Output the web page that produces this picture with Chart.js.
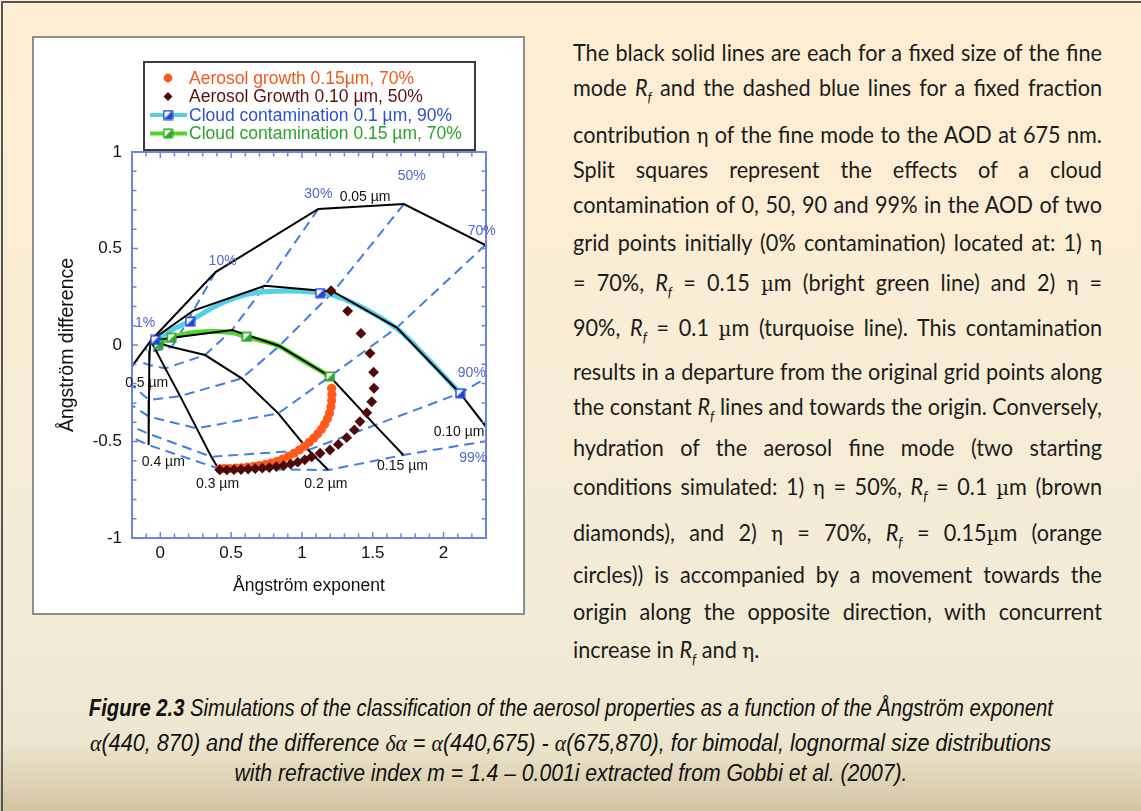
<!DOCTYPE html>
<html lang="en">
<head>
<meta charset="utf-8">
<title>Ångström exponent classification</title>
<script src="https://cdn.jsdelivr.net/npm/chart.js@4.4.1/dist/chart.umd.min.js"></script>
<style>
  html, body { margin: 0; padding: 0; }
  body {
    width: 1141px; height: 811px; position: relative; overflow: hidden;
    background: linear-gradient(to bottom, #feeed2 0%, #f9edd5 40%, #f2ebd6 75%, #eee7d0 91%, #d3c5a1 100%);
  }
  #edge { position: absolute; left: 1px; top: 1px; width: 1140px; height: 810px; box-sizing: border-box;
          border-top: 2px solid #555; border-left: 2px solid #555; }
  #panel { position: absolute; left: 32px; top: 36px; width: 489px; height: 575px; background: #fff;
           border: 2px solid #8d8d8d; }
  #panel canvas { display: block; }
  .para { position: absolute; left: 573px; top: 0; width: 529px; height: 680px;
          font-family: Lato, 'Open Sans', sans-serif; font-size: 22.5px; color: #1b1b1b; }
  .ln { position: absolute; left: 0; white-space: nowrap; line-height: 30px; transform-origin: 0 50%; }
  .g { font-family: 'DejaVu Serif', 'Liberation Serif', serif; font-size: 0.92em; }
  sub { font-size: 0.62em; vertical-align: -0.42em; line-height: 0; }
  .cap { position: absolute; left: 0; width: 1141px; text-align: center; line-height: 30px; white-space: nowrap;
         font-family: 'Liberation Sans Narrow', 'Liberation Sans', Arial, sans-serif; font-style: italic;
         font-size: 23px; color: #111; }
  .cap .fit { display: inline-block; transform-origin: 50% 50%; }
  .cap .gr { font-family: 'Liberation Serif', 'DejaVu Serif', serif; }
</style>
</head>
<body>
<div id="edge"></div>
<div id="panel"><canvas id="plot" width="489" height="575"></canvas></div>

<div class="para">
<div class="ln" style="top:38px">The black solid lines are each for a fixed size of the fine</div>
<div class="ln" style="top:73px">mode <i>R</i><sub><i>f</i></sub> and the dashed blue lines for a fixed fraction</div>
<div class="ln" style="top:120px">contribution <span class="g">η</span> of the fine mode to the AOD at 675 nm.</div>
<div class="ln" style="top:155px">Split squares represent the effects of a cloud</div>
<div class="ln" style="top:190px">contamination of 0, 50, 90 and 99% in the AOD of two</div>
<div class="ln" style="top:228px">grid points initially (0% contamination) located at: 1) <span class="g">η</span></div>
<div class="ln" style="top:268px">= 70%, <i>R</i><sub><i>f</i></sub> = 0.15 <span class="g">µ</span>m (bright green line) and 2) <span class="g">η</span> =</div>
<div class="ln" style="top:313px">90%, <i>R</i><sub><i>f</i></sub> = 0.1 <span class="g">µ</span>m (turquoise line). This contamination</div>
<div class="ln" style="top:357px">results in a departure from the original grid points along</div>
<div class="ln" style="top:392px">the constant <i>R</i><sub><i>f</i></sub> lines and towards the origin. Conversely,</div>
<div class="ln" style="top:433px">hydration of the aerosol fine mode (two starting</div>
<div class="ln" style="top:472px">conditions simulated: 1) <span class="g">η</span> = 50%, <i>R</i><sub><i>f</i></sub> = 0.1 <span class="g">µ</span>m (brown</div>
<div class="ln" style="top:518px">diamonds), and 2) <span class="g">η</span> = 70%, <i>R</i><sub><i>f</i></sub> = 0.15<span class="g">µ</span>m (orange</div>
<div class="ln" style="top:560px">circles)) is accompanied by a movement towards the</div>
<div class="ln" style="top:597px">origin along the opposite direction, with concurrent</div>
<div class="ln last" style="top:635px">increase in <i>R</i><sub><i>f</i></sub> and <span class="g">η</span>.</div>
</div>

<div class="cap" style="top:693px" data-w="964"><span class="fit"><b>Figure 2.3</b> Simulations of the classification of the aerosol properties as a function of the Ångström exponent</span></div>
<div class="cap" style="top:728px" data-w="961"><span class="fit"><span class="gr">α</span>(440, 870) and the difference <span class="gr">δα</span> = <span class="gr">α</span>(440,675) - <span class="gr">α</span>(675,870), for bimodal, lognormal size distributions</span></div>
<div class="cap" style="top:758px" data-w="673"><span class="fit">with refractive index m = 1.4 – 0.001i extracted from Gobbi et al. (2007).</span></div>

<script>
// ---- axis ticks ----
const xTickValues = [0, 0.5, 1, 1.5, 2];
const xTickLabels = ['0', '0.5', '1', '1.5', '2'];
const yTickValues = [-1, -0.5, 0, 0.5, 1];
const yTickLabels = ['-1', '-0.5', '0', '0.5', '1'];

// ---- lookup grid: fine-mode fraction (dashed) and fine-mode radius (solid) ----
const etaLevels = ['1%', '10%', '30%', '50%', '70%', '90%', '99%'];
const rfSizes = ['0.05 µm', '0.10 µm', '0.15 µm', '0.2 µm', '0.3 µm', '0.4 µm', '0.5 µm'];

// grid nodes for each radius, one entry per eta level (Ångström exponent, Ångström difference)
const rf005X = [-0.068, 0.39, 1.116, 1.72, 2.296, 2.75, 2.95];
const rf005Y = [0.022, 0.378, 0.705, 0.73, 0.518, 0.02, -0.3];
const rf010X = [-0.068, 0.233, 0.739, 1.222, 1.67, 2.117, 2.37];
const rf010Y = [0.022, 0.178, 0.307, 0.276, 0.09, -0.25, -0.49];
const rf015X = [-0.068, 0.126, 0.507, 0.84, 1.198, 1.516, 1.716];
const rf015Y = [0.022, 0.041, 0.078, -0.005, -0.163, -0.415, -0.57];
const rf020X = [-0.068, 0.08, 0.316, 0.575, 0.833, 1.045, 1.186];
const rf020Y = [0.022, -0.01, -0.052, -0.173, -0.354, -0.544, -0.648];
const rf030X = [-0.068, -0.03, 0.035, 0.14, 0.257, 0.36, 0.41];
const rf030Y = [0.022, -0.03, -0.121, -0.265, -0.432, -0.579, -0.64];
const rf040X = [-0.068, -0.075, -0.078, -0.08, -0.08, -0.082, -0.085];
const rf040Y = [0.022, -0.03, -0.104, -0.285, -0.371, -0.46, -0.518];
const rf050X = [-0.068, -0.11, -0.17, -0.26, -0.33, -0.4, -0.43];
const rf050Y = [0.022, -0.02, -0.08, -0.17, -0.25, -0.36, -0.4];

// ---- aerosol growth tracks ----
const growth015X = [1.21, 1.212, 1.21, 1.205, 1.195, 1.18, 1.16, 1.138, 1.112, 1.083, 1.052, 1.018, 0.982, 0.944,
                    0.905, 0.865, 0.824, 0.783, 0.742, 0.70, 0.658, 0.616, 0.574, 0.532, 0.49, 0.45, 0.42];
const growth015Y = [-0.224, -0.256, -0.288, -0.32, -0.352, -0.382, -0.41, -0.436, -0.46, -0.483, -0.504, -0.524,
                    -0.543, -0.561, -0.577, -0.591, -0.603, -0.612, -0.619, -0.625, -0.629, -0.633, -0.636,
                    -0.638, -0.64, -0.641, -0.642];
const growth010X = [1.206, 1.323, 1.417, 1.481, 1.506, 1.509, 1.493, 1.458, 1.41, 1.37, 1.316, 1.257, 1.198, 1.128,
                    1.069, 1.02, 0.97, 0.92, 0.87, 0.82, 0.77, 0.72, 0.67, 0.62, 0.57, 0.52, 0.47, 0.42];
const growth010Y = [0.281, 0.176, 0.06, -0.043, -0.141, -0.224, -0.294, -0.351, -0.397, -0.44, -0.48, -0.515,
                    -0.544, -0.561, -0.579, -0.595, -0.607, -0.617, -0.625, -0.63, -0.635, -0.638, -0.641,
                    -0.643, -0.645, -0.646, -0.647, -0.647];

// ---- cloud contamination paths and the 0 / 50 / 90 / 99 % contamination points ----
const cloud01X = [2.117, 1.9, 1.67, 1.4, 1.2, 1.045, 0.9, 0.739, 0.6, 0.457, 0.35, 0.222, 0.1, 0.0, -0.04];
const cloud01Y = [-0.25, -0.08, 0.085, 0.205, 0.262, 0.276, 0.28, 0.276, 0.26, 0.224, 0.185, 0.13, 0.085, 0.043, 0.025];
const cloud01MarkX = [2.117, 1.128, 0.21, -0.037];
const cloud01MarkY = [-0.25, 0.269, 0.121, 0.026];
const cloud015X = [1.198, 0.963, 0.822, 0.61, 0.492, 0.257, 0.069, -0.014];
const cloud015Y = [-0.163, -0.061, 0.0, 0.042, 0.066, 0.066, 0.037, 0.004];
const cloud015MarkX = [1.198, 0.61, 0.08, -0.014];
const cloud015MarkY = [-0.163, 0.042, 0.037, 0.004];

// ---- styling ----
const FONT = "'Liberation Sans', Arial, sans-serif";
const AXIS_BLUE = '#6d84da';
const GRID_BLUE = '#3f7fe0';
const NOTE_BLUE = '#4f67cf';
const ORANGE = '#ff5a1e';
const BROWN = '#4e0a0a';
const TURQUOISE = '#55cfe8';
const GREEN = '#52d629';

// where the grid annotations sit, in data units
const etaNotes = [[-0.108, 0.112], [0.44, 0.437], [1.116, 0.782], [1.775, 0.877], [2.27, 0.59], [2.2, -0.147], [2.21, -0.587]];
const rfNotes = [[1.446, 0.765], [2.11, -0.449], [1.71, -0.627], [1.169, -0.72], [0.404, -0.72], [0.021, -0.605], [-0.096, -0.198]];

const rfX = [rf005X, rf010X, rf015X, rf020X, rf030X, rf040X, rf050X];
const rfY = [rf005Y, rf010Y, rf015Y, rf020Y, rf030Y, rf040Y, rf050Y];
const pts = (xs, ys) => xs.map((x, i) => ({ x, y: ys[i] }));

function splitSquare(edge, fill) {
  const c = document.createElement('canvas');
  c.width = 11; c.height = 11;
  const g = c.getContext('2d');
  g.fillStyle = '#fff';
  g.fillRect(1, 1, 9, 9);
  g.fillStyle = fill;
  g.beginPath(); g.moveTo(10, 1); g.lineTo(10, 10); g.lineTo(1, 10); g.closePath(); g.fill();
  g.strokeStyle = edge; g.lineWidth = 1.6;
  g.strokeRect(1.3, 1.3, 8.4, 8.4);
  return c;
}
const blueSquare = splitSquare('#2446d4', '#2446d4');
const greenSquare = splitSquare('#2fa82a', '#2fa82a');

const datasets = [];
datasets.push({ label: 'Aerosol Growth 0.10 µm, 50%', data: pts(growth010X, growth010Y), showLine: false,
  pointStyle: 'rectRot', pointRadius: 5.4, backgroundColor: BROWN, borderWidth: 0, order: 0 });
datasets.push({ label: 'Aerosol growth 0.15µm, 70%', data: pts(growth015X, growth015Y), showLine: false,
  pointStyle: 'circle', pointRadius: 4.6, backgroundColor: ORANGE, borderWidth: 0, order: 1 });
datasets.push({ label: 'cloud 0.1 points', data: pts(cloud01MarkX, cloud01MarkY), showLine: false,
  pointStyle: blueSquare, pointRadius: 5, order: 2 });
datasets.push({ label: 'cloud 0.15 points', data: pts(cloud015MarkX, cloud015MarkY), showLine: false,
  pointStyle: greenSquare, pointRadius: 5, order: 2 });
rfSizes.forEach((name, k) => {
  datasets.push({ label: 'Rf ' + name, data: pts(rfX[k], rfY[k]), showLine: true, pointRadius: 0,
    borderColor: '#000', borderWidth: 2, tension: 0, order: 3 });
});
datasets.push({ label: 'Cloud contamination 0.1 µm, 90%', data: pts(cloud01X, cloud01Y), showLine: true,
  pointRadius: 0, borderColor: TURQUOISE, borderWidth: 5, tension: 0.35, order: 4 });
datasets.push({ label: 'Cloud contamination 0.15 µm, 70%', data: pts(cloud015X, cloud015Y), showLine: true,
  pointRadius: 0, borderColor: GREEN, borderWidth: 5, tension: 0.35, order: 4 });
etaLevels.forEach((name, j) => {
  if (j === 0) return; // the 1% nodes all sit at the origin
  datasets.push({ label: 'eta ' + name, data: rfX.map((xs, k) => ({ x: xs[j], y: rfY[k][j] })), showLine: true,
    pointRadius: 0, borderColor: GRID_BLUE, borderWidth: 2, borderDash: [10, 6], tension: 0, order: 5 });
});

const legendItems = [
  { text: 'Aerosol growth 0.15µm, 70%', color: '#f2581f', mark: 'dot' },
  { text: 'Aerosol Growth 0.10 µm, 50%', color: '#5a1212', mark: 'diamond' },
  { text: 'Cloud contamination 0.1 µm, 90%', color: '#2f4fd0', mark: 'cyan' },
  { text: 'Cloud contamination 0.15 µm, 70%', color: '#27a427', mark: 'green' }
];

const decorations = {
  id: 'decorations',
  afterDatasetsDraw(chart) {
    const { ctx, chartArea: a, scales: { x, y } } = chart;
    ctx.save();
    // inward ticks on all four sides
    ctx.strokeStyle = AXIS_BLUE;
    ctx.lineWidth = 1.5;
    ctx.beginPath();
    for (let i = -2; i <= 23; i++) {
      const px = x.getPixelForValue(i / 10);
      const len = i % 5 === 0 ? 6 : 4.5;
      ctx.moveTo(px, a.bottom); ctx.lineTo(px, a.bottom - len);
      ctx.moveTo(px, a.top); ctx.lineTo(px, a.top + len);
    }
    for (let i = -10; i <= 10; i++) {
      const py = y.getPixelForValue(i / 10);
      const len = i % 5 === 0 ? 6 : 4.5;
      ctx.moveTo(a.left, py); ctx.lineTo(a.left + len, py);
      ctx.moveTo(a.right, py); ctx.lineTo(a.right - len, py);
    }
    ctx.stroke();
    ctx.lineWidth = 2;
    ctx.strokeRect(a.left, a.top, a.width, a.height);

    // grid annotations
    ctx.textAlign = 'center';
    ctx.textBaseline = 'middle';
    ctx.font = '14px ' + FONT;
    ctx.fillStyle = NOTE_BLUE;
    etaLevels.forEach((t, j) => ctx.fillText(t, x.getPixelForValue(etaNotes[j][0]), y.getPixelForValue(etaNotes[j][1])));
    ctx.fillStyle = '#111';
    rfSizes.forEach((t, k) => ctx.fillText(t, x.getPixelForValue(rfNotes[k][0]), y.getPixelForValue(rfNotes[k][1])));
    ctx.restore();
  },
  afterDraw(chart) {
    const ctx = chart.ctx;
    const box = { left: 110, top: 24, width: 331, height: 88 };
    ctx.save();
    ctx.fillStyle = '#fff';
    ctx.fillRect(box.left, box.top, box.width, box.height);
    ctx.strokeStyle = '#3c3c3c';
    ctx.lineWidth = 2;
    ctx.strokeRect(box.left, box.top, box.width, box.height);
    ctx.font = '17.5px ' + FONT;
    ctx.textBaseline = 'middle';
    ctx.textAlign = 'left';
    const mx = 134;
    legendItems.forEach((it, i) => {
      const cy = box.top + 16 + i * 18.5;
      if (it.mark === 'dot') {
        ctx.fillStyle = ORANGE;
        ctx.beginPath(); ctx.arc(mx, cy, 4.4, 0, Math.PI * 2); ctx.fill();
      } else if (it.mark === 'diamond') {
        ctx.fillStyle = BROWN;
        ctx.beginPath(); ctx.moveTo(mx, cy - 4.5); ctx.lineTo(mx + 4.5, cy); ctx.lineTo(mx, cy + 4.5); ctx.lineTo(mx - 4.5, cy); ctx.closePath(); ctx.fill();
      } else {
        ctx.strokeStyle = it.mark === 'cyan' ? TURQUOISE : GREEN;
        ctx.lineWidth = 4;
        ctx.beginPath(); ctx.moveTo(116, cy); ctx.lineTo(153, cy); ctx.stroke();
        const sq = it.mark === 'cyan' ? blueSquare : greenSquare;
        ctx.drawImage(sq, mx - 5.5, cy - 5.5);
      }
      ctx.fillStyle = it.color;
      ctx.fillText(it.text, 155, cy + 1);
    });
    ctx.restore();
  }
};

new Chart(document.getElementById('plot'), {
  type: 'scatter',
  data: { datasets },
  options: {
    responsive: false,
    animation: false,
    events: [],
    layout: { padding: { top: 114, right: 37, bottom: 0, left: 0 } },
    plugins: { legend: { display: false }, tooltip: { enabled: false } },
    scales: {
      x: {
        type: 'linear', min: -0.2, max: 2.3,
        afterBuildTicks: s => { s.ticks = xTickValues.map(v => ({ value: v })); },
        afterFit: s => { s.height = 75; },
        grid: { display: false, drawTicks: false },
        border: { display: false },
        ticks: { color: '#111', font: { family: FONT, size: 17 }, padding: 5, maxRotation: 0, autoSkip: false,
                 callback: (v, i) => xTickLabels[i] },
        title: { display: true, text: 'Ångström exponent', color: '#111', font: { family: FONT, size: 17.5 },
                 padding: { top: 0, bottom: 16 } }
      },
      y: {
        type: 'linear', min: -1, max: 1,
        afterBuildTicks: s => { s.ticks = yTickValues.map(v => ({ value: v })); },
        afterFit: s => { s.width = 98; },
        grid: { display: false, drawTicks: false },
        border: { display: false },
        ticks: { color: '#111', font: { family: FONT, size: 17 }, padding: 10, autoSkip: false,
                 callback: (v, i) => yTickLabels[i] },
        title: { display: true, text: 'Ångström difference', color: '#111', font: { family: FONT, size: 19.5 },
                 padding: { top: 22, bottom: 0 } }
      }
    }
  },
  plugins: [decorations]
});

// justify the paragraph lines and fit the caption lines to their measure
function setText() {
  const lines = Array.from(document.querySelectorAll('.para .ln'));
  const W = 529;
  const widths = lines.map(l => l.getBoundingClientRect().width);
  const k = Math.min(1, W / Math.max(...widths));
  lines.forEach((l, i) => {
    l.style.transform = 'scaleX(' + k + ')';
    if (l.classList.contains('last')) return;
    const spaces = (l.textContent.match(/ /g) || []).length;
    l.style.wordSpacing = ((W / k - widths[i]) / spaces) + 'px';
  });
  document.querySelectorAll('.cap').forEach(c => {
    const s = c.querySelector('.fit');
    const w = s.getBoundingClientRect().width;
    s.style.transform = 'scaleX(' + (+c.dataset.w / w) + ')';
  });
}
if (document.fonts && document.fonts.ready) document.fonts.ready.then(setText); else setText();
</script>
</body>
</html>
